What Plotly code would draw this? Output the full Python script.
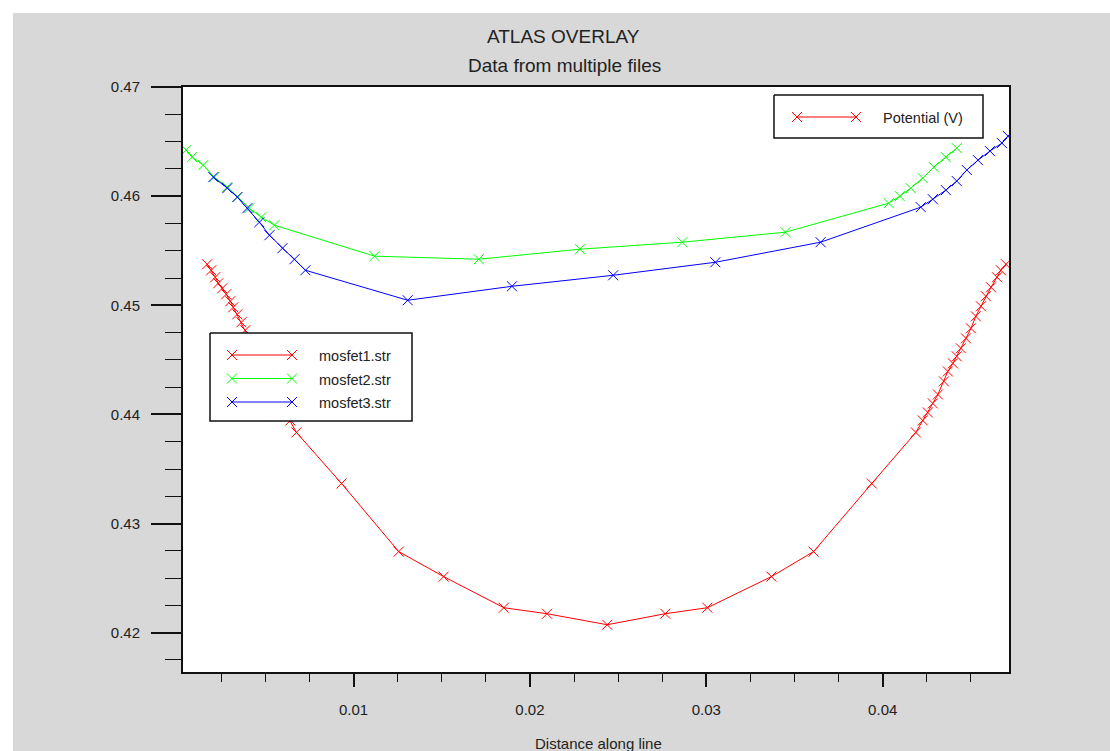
import plotly.graph_objects as go

# ---- data: potential along the cut line for each structure file ----
mosfet1_x = [0.00170, 0.00193, 0.00216, 0.00233, 0.00256, 0.00278, 0.00301, 0.00318, 0.00341, 0.00364,
             0.00386, 0.00409, 0.00432, 0.00455, 0.00477, 0.00500, 0.00523, 0.00557, 0.00585, 0.00614,
             0.00642, 0.00676, 0.00932, 0.01256, 0.01511, 0.01852, 0.02097, 0.02438, 0.02767, 0.03006,
             0.03369, 0.03608, 0.03938, 0.04188, 0.04227, 0.04256, 0.04284, 0.04313, 0.04347, 0.04369,
             0.04398, 0.04420, 0.04443, 0.04472, 0.04500, 0.04528, 0.04557, 0.04585, 0.04614, 0.04648,
             0.04670, 0.04699]
mosfet1_y = [0.45376, 0.45321, 0.45257, 0.45202, 0.45156, 0.45101, 0.45037, 0.44982, 0.44917, 0.44844,
             0.44771, 0.44697, 0.44615, 0.44541, 0.44468, 0.44394, 0.44303, 0.44183, 0.44101, 0.44018,
             0.43945, 0.43835, 0.43367, 0.42743, 0.42514, 0.42229, 0.42174, 0.42073, 0.42174, 0.42229,
             0.42514, 0.42743, 0.43367, 0.43835, 0.43945, 0.44018, 0.44101, 0.44183, 0.44303, 0.44394,
             0.44468, 0.44532, 0.44606, 0.44697, 0.44789, 0.44899, 0.44991, 0.45083, 0.45165, 0.45257,
             0.45321, 0.45376]

mosfet2_x = [0.00051, 0.00085, 0.00148, 0.00210, 0.00284, 0.00341, 0.00409, 0.00477, 0.00551, 0.01119,
             0.01710, 0.02284, 0.02864, 0.03449, 0.04034, 0.04097, 0.04159, 0.04227, 0.04290, 0.04358,
             0.04420]
mosfet2_y = [0.46422, 0.46358, 0.46284, 0.46174, 0.46083, 0.45991, 0.45890, 0.45807, 0.45734, 0.45450,
             0.45422, 0.45514, 0.45578, 0.45670, 0.45936, 0.46000, 0.46073, 0.46165, 0.46266, 0.46358,
             0.46440]

mosfet3_x = [0.00205, 0.00284, 0.00341, 0.00398, 0.00466, 0.00523, 0.00597, 0.00665, 0.00727, 0.01307,
             0.01898, 0.02472, 0.03051, 0.03648, 0.04216, 0.04284, 0.04358, 0.04420, 0.04477, 0.04540,
             0.04608, 0.04676, 0.04710]
mosfet3_y = [0.46174, 0.46073, 0.45991, 0.45890, 0.45761, 0.45642, 0.45523, 0.45422, 0.45321, 0.45046,
             0.45174, 0.45275, 0.45394, 0.45578, 0.45899, 0.45972, 0.46055, 0.46138, 0.46239, 0.46330,
             0.46413, 0.46486, 0.46550]

series_names = ["mosfet1.str", "mosfet2.str", "mosfet3.str"]
series_colors = ["#ff0000", "#00ff00", "#0000ff"]
quantity_label = "Potential (V)"

x_tick_vals = [0.01, 0.02, 0.03, 0.04]
x_tick_text = ["0.01", "0.02", "0.03", "0.04"]
y_tick_vals = [0.42, 0.43, 0.44, 0.45, 0.46, 0.47]
y_tick_text = ["0.42", "0.43", "0.44", "0.45", "0.46", "0.47"]

title_text = "ATLAS OVERLAY"
subtitle_text = "Data from multiple files"
x_title_text = "Distance along line"

# ---- page geometry (pixels) ----
W, H = 1110, 751
PL, PR, PT, PB = 183, 1009, 87, 672          # plot-area edges
FONT = "Liberation Sans, Arial, Helvetica, sans-serif"
TEXT = "#222222"


def px(xp):
    return (xp - PL) / (PR - PL)


def py(yp):
    return (PB - yp) / (PB - PT)


fig = go.Figure()

marker_style = dict(symbol="x-thin", size=10)

for name, xs, ys, col in zip(series_names,
                             [mosfet1_x, mosfet2_x, mosfet3_x],
                             [mosfet1_y, mosfet2_y, mosfet3_y],
                             series_colors):
    fig.add_trace(go.Scatter(
        x=xs, y=ys, name=name, mode="lines+markers",
        line=dict(color=col, width=1),
        marker=dict(**marker_style, color=col, line=dict(color=col, width=1)),
        showlegend=False, hoverinfo="x+y+name",
    ))

# ---- boxed keys drawn on an overlay subplot spanning the plot area ----
def key_box(x0, x1, y0, y1):
    fig.add_trace(go.Scatter(
        x=[px(x0), px(x1), px(x1), px(x0), px(x0)],
        y=[py(y0), py(y0), py(y1), py(y1), py(y0)],
        xaxis="x2", yaxis="y2", mode="lines", fill="toself",
        fillcolor="white", line=dict(color="#111111", width=1.5),
        showlegend=False, hoverinfo="skip",
    ))


def key_entry(label, col, xa, xb, yline, xtext):
    fig.add_trace(go.Scatter(
        x=[px(xa), px(xb)], y=[py(yline), py(yline)],
        xaxis="x2", yaxis="y2", mode="lines+markers",
        line=dict(color=col, width=1),
        marker=dict(**marker_style, color=col, line=dict(color=col, width=1)),
        showlegend=False, hoverinfo="skip",
    ))
    fig.add_annotation(
        x=px(xtext), y=py(yline + 1), xref="paper", yref="paper",
        text=label, showarrow=False, xanchor="left", yanchor="middle",
        font=dict(family=FONT, size=14.5, color=TEXT),
    )


key_box(774, 983, 95, 138)
key_entry(quantity_label, series_colors[0], 797, 856, 117, 881)

key_box(210, 412, 333, 421)
for i, (name, col) in enumerate(zip(series_names, series_colors)):
    yl = 355 + i * 23.5
    key_entry(name, col, 232, 292, yl, 317)

# ---- titles ----
fig.add_annotation(x=px(563.5), y=py(36), xref="paper", yref="paper", text=title_text,
                   showarrow=False, xanchor="center", yanchor="middle",
                   font=dict(family=FONT, size=19, color=TEXT))
fig.add_annotation(x=px(564), y=py(66), xref="paper", yref="paper", text=subtitle_text,
                   showarrow=False, xanchor="center", yanchor="middle",
                   font=dict(family=FONT, size=19, color=TEXT))
fig.add_annotation(x=px(598.5), y=py(743), xref="paper", yref="paper", text=x_title_text,
                   showarrow=False, xanchor="center", yanchor="middle",
                   font=dict(family=FONT, size=15, color=TEXT))

# ---- page background: grey panel with a thin white border strip ----
fig.add_shape(type="rect", xref="paper", yref="paper", layer="below",
              x0=px(13), x1=px(W + 5), y0=py(H + 5), y1=py(13),
              fillcolor="#d8d8d8", line=dict(width=0))
fig.add_shape(type="rect", xref="paper", yref="paper", layer="below",
              x0=0, x1=1, y0=0, y1=1, fillcolor="white", line=dict(width=0))

axis_common = dict(
    showline=True, linecolor="#111111", linewidth=2, mirror=True,
    showgrid=False, zeroline=False, ticks="outside", tickcolor="#111111",
    tickwidth=2, tickmode="array", fixedrange=True,
    tickfont=dict(family=FONT, size=15, color=TEXT),
)

fig.update_layout(
    width=W, height=H, autosize=False,
    margin=dict(l=PL, r=W - PR, t=PT, b=H - PB, pad=0),
    paper_bgcolor="white", plot_bgcolor="white",
    showlegend=False,
    xaxis=dict(**axis_common, range=[0.00033, 0.04716],
               tickvals=x_tick_vals, ticktext=x_tick_text, ticklen=13,
               ticklabelstandoff=10,
               minor=dict(ticks="outside", tickmode="linear", tick0=0, dtick=0.0025,
                          ticklen=8, tickwidth=1, tickcolor="#111111")),
    yaxis=dict(**axis_common, range=[0.4164, 0.47],
               tickvals=y_tick_vals, ticktext=y_tick_text, ticklen=30,
               ticklabelstandoff=8,
               minor=dict(ticks="outside", tickmode="linear", tick0=0, dtick=0.0025,
                          ticklen=16, tickwidth=1, tickcolor="#111111")),
    xaxis2=dict(overlaying="x", anchor="y2", range=[0, 1], visible=False, fixedrange=True),
    yaxis2=dict(overlaying="y", anchor="x2", range=[0, 1], visible=False, fixedrange=True),
)

fig.write_html("out.html")
